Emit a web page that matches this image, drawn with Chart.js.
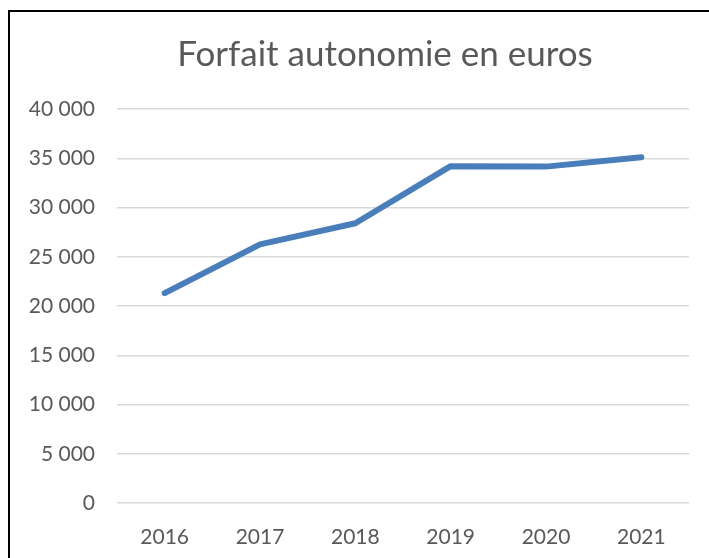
<!DOCTYPE html>
<html>
<head>
<meta charset="utf-8">
<script src="https://cdn.jsdelivr.net/npm/chart.js@4"></script>
<style>
  html, body { margin: 0; padding: 0; background: #fff; overflow: hidden; }
  #wrap { position: relative; width: 709px; height: 558px; }
  #frame { position: absolute; left: 8px; top: 10px; width: 800px; height: 600px; border: 2px solid #000; }
  canvas { position: absolute; left: 0; top: 0; }
</style>
</head>
<body>
<div id="wrap">
  <div id="frame"></div>
  <canvas id="lineChart" width="709" height="558"></canvas>
</div>
<script>
// Données
var titre = 'Forfait autonomie en euros';
var annees = ['2016', '2017', '2018', '2019', '2020', '2021'];
var montants = [21300, 26250, 28400, 34200, 34150, 35100];
var yMin = 0, yMax = 40000, yPas = 5000;

// Titre dessiné au-dessus de la zone du graphique
var titrePlugin = {
    id: 'titreCentre',
    afterDraw: function (chart) {
        var ctx = chart.ctx;
        ctx.save();
        ctx.font = '35px Lato';
        ctx.fillStyle = '#595959';
        ctx.textAlign = 'center';
        ctx.textBaseline = 'middle';
        ctx.fillText(titre, 385, 55);
        ctx.restore();
    }
};

function formatMilliers(v) {
    return String(v).replace(/\B(?=(\d{3})+(?!\d))/g, ' ');
}

var ctx = document.getElementById('lineChart').getContext('2d');
var currentLineChart = new Chart(ctx, {
    type: 'line',
    data: {
        labels: annees,
        datasets: [{
            label: titre,
            data: montants,
            borderColor: '#4a7ebb',
            borderWidth: 6,
            borderCapStyle: 'round',
            borderJoinStyle: 'round',
            pointRadius: 0,
            tension: 0,
            fill: false
        }]
    },
    options: {
        responsive: false,
        animation: false,
        layout: { padding: { top: 109, right: 20, left: 0, bottom: 0 } },
        plugins: {
            legend: { display: false },
            title: { display: false },
            tooltip: { enabled: false }
        },
        scales: {
            x: {
                offset: true,
                grid: { display: false, drawTicks: false },
                border: { display: false },
                ticks: { color: '#595959', font: { family: 'Lato', size: 21 }, padding: 22 },
                afterFit: function (scale) { scale.height = 55; }
            },
            y: {
                min: yMin,
                max: yMax,
                grid: { color: '#d9d9d9', lineWidth: 1.5, drawTicks: false },
                border: { display: false },
                ticks: {
                    stepSize: yPas,
                    color: '#595959',
                    font: { family: 'Lato', size: 21 },
                    padding: 22,
                    callback: function (v) { return formatMilliers(v); }
                },
                afterFit: function (scale) { scale.width = 117; }
            }
        }
    },
    plugins: [titrePlugin]
});
</script>
</body>
</html>
